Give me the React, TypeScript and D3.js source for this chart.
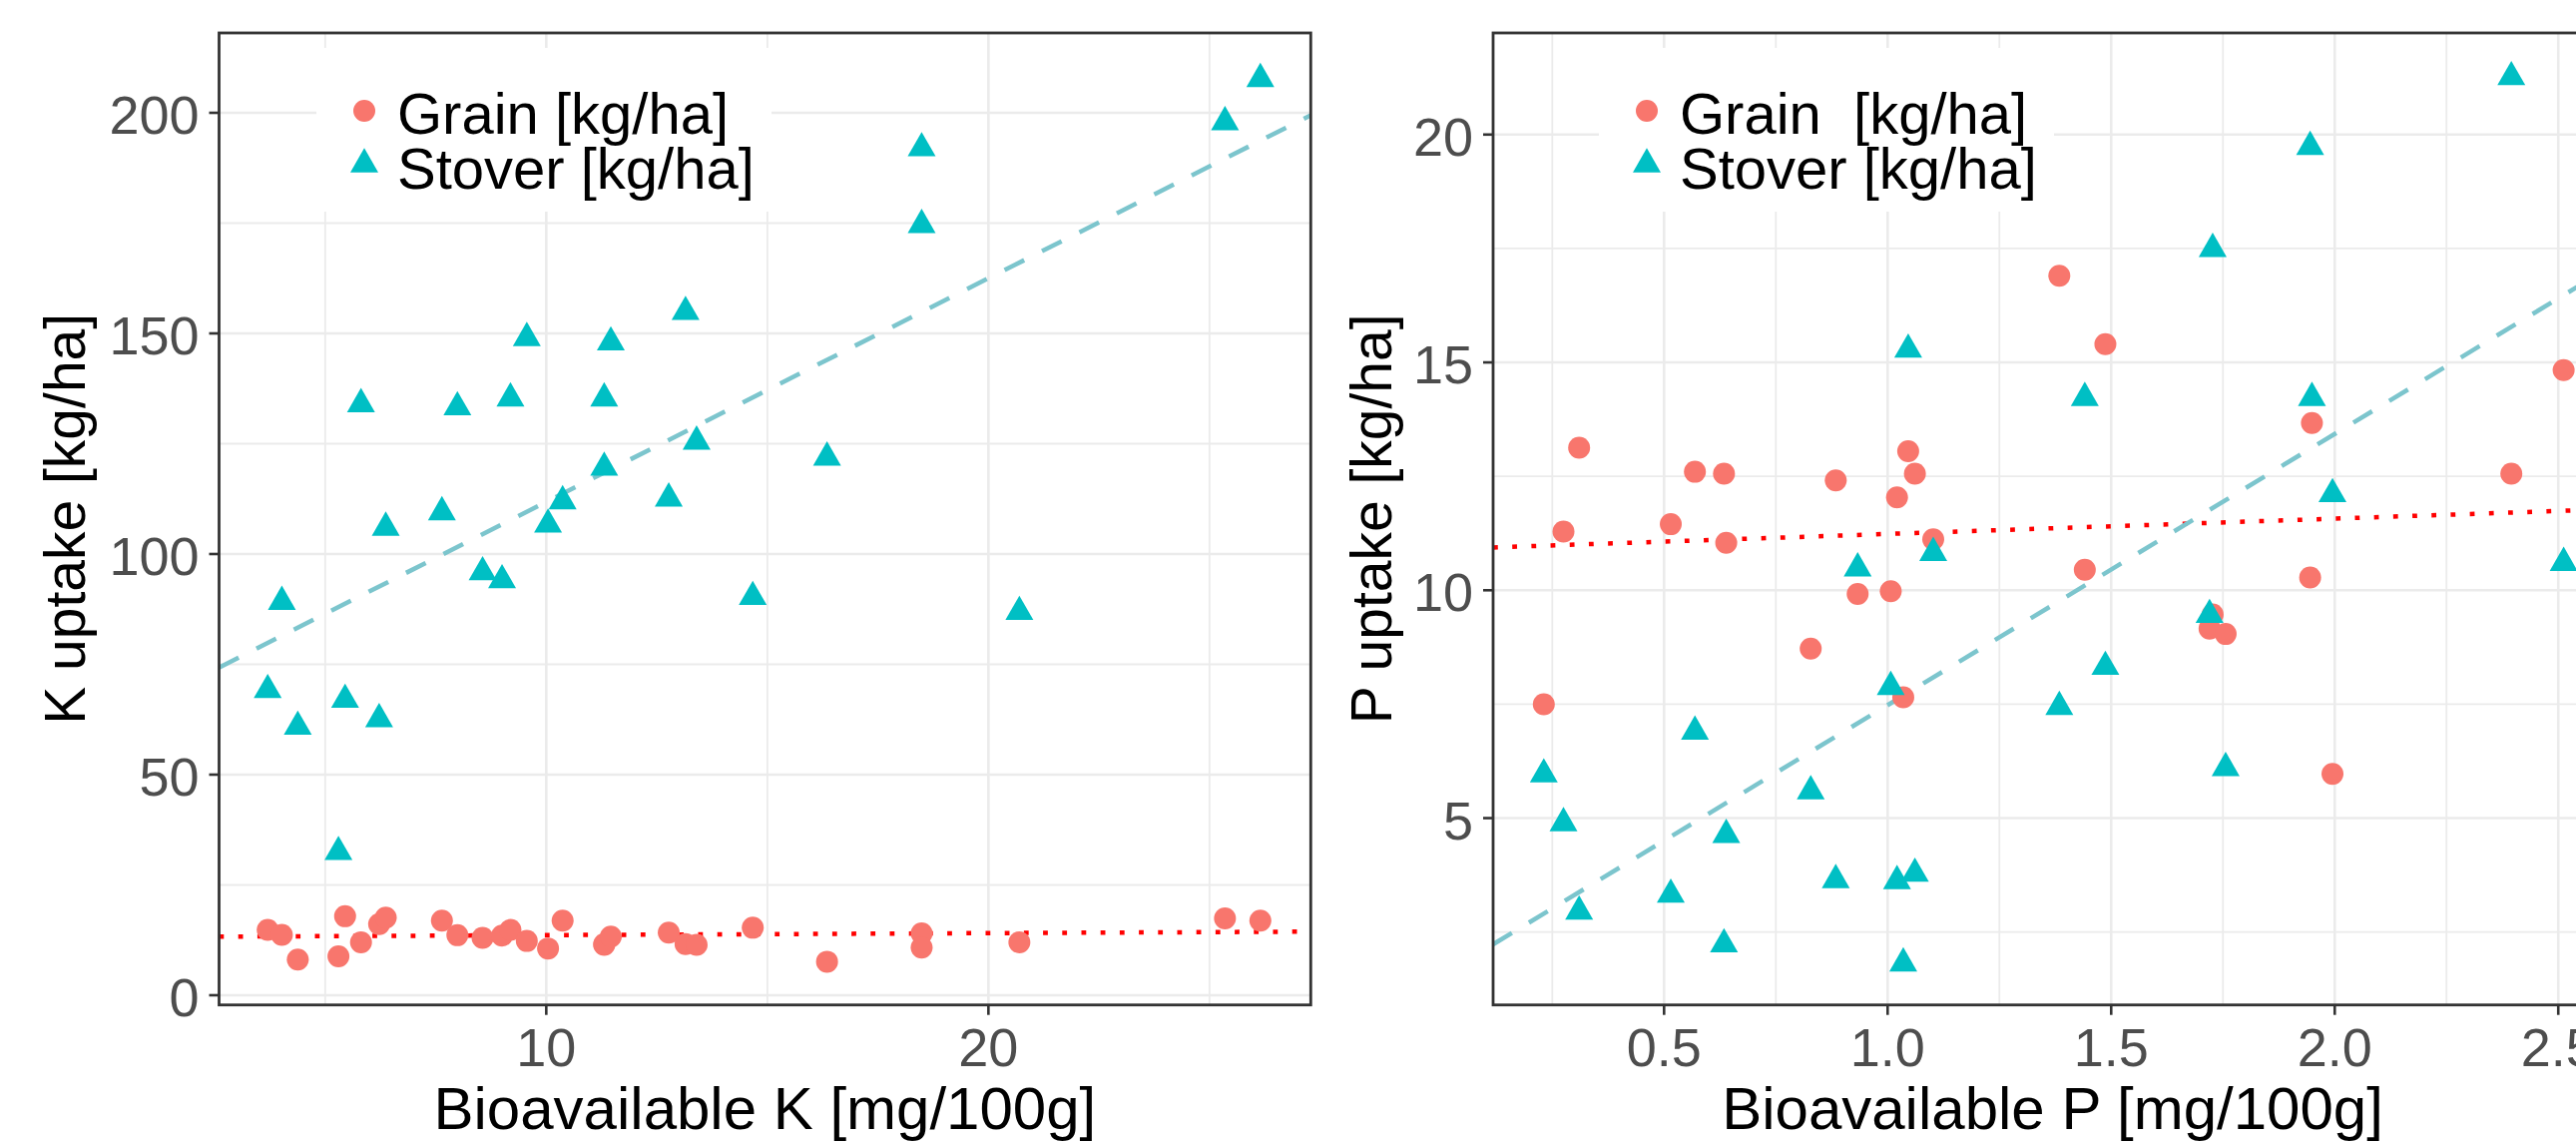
import React from "react"
import * as d3 from "d3"

const W = 2581
const H = 1145
const FONT = "'Liberation Sans', Arial, sans-serif"

// bioavailable K [mg/100g] with grain / stover K uptake [kg/ha]
const bioK = [3.7, 4.02, 4.38, 5.3, 5.45, 5.81, 6.22, 6.37, 7.64, 7.99, 8.56, 9.0, 9.19, 9.56, 10.04, 10.37, 11.31, 11.31, 11.46, 12.77, 13.15, 13.4, 14.67, 16.35, 18.49, 18.49, 20.7, 25.35, 26.15]
const grainK = [14.8, 13.7, 8.1, 8.8, 17.9, 12.0, 16.1, 17.6, 16.9, 13.6, 13.0, 13.5, 14.8, 12.3, 10.6, 16.9, 11.4, 11.6, 13.3, 14.2, 11.6, 11.4, 15.3, 7.6, 14.0, 10.8, 12.0, 17.4, 16.9]
const stoverK = [70.1, 90.1, 61.8, 33.4, 67.9, 134.9, 63.5, 106.9, 110.4, 134.2, 96.8, 95.0, 136.2, 149.9, 107.6, 112.9, 136.2, 120.5, 148.9, 113.5, 155.8, 126.4, 91.2, 122.8, 192.9, 175.5, 87.8, 198.8, 208.6]

// bioavailable P [mg/100g] with grain / stover P uptake [kg/ha]
const bioP = [0.231, 0.275, 0.31, 0.515, 0.569, 0.634, 0.639, 0.828, 0.884, 0.933, 1.007, 1.021, 1.035, 1.046, 1.061, 1.102, 1.384, 1.441, 1.487, 1.72, 1.727, 1.756, 1.945, 1.949, 1.995, 2.395, 2.512]
const grainP = [7.5, 11.29, 13.13, 11.45, 12.6, 12.56, 11.04, 8.72, 12.41, 9.92, 9.98, 12.04, 7.65, 13.05, 12.56, 11.12, 16.9, 10.45, 15.4, 9.16, 9.47, 9.04, 10.28, 13.67, 5.97, 12.56, 14.83]
const stoverP = [6.05, 4.98, 3.04, 3.41, 6.99, 2.32, 4.72, 5.68, 3.73, 10.57, 7.97, 3.71, 1.9, 15.37, 3.87, 10.91, 7.53, 14.31, 8.41, 9.55, 17.58, 6.19, 19.82, 14.31, 12.2, 21.35, 10.69]

// fitted lines: [intercept, slope]
const grainFitK = [13.16, 0.0458]
const stoverFitK = [61.1, 5.07]
const grainFitP = [10.9, 0.336]
const stoverFitP = [1.53, 5.95]

// axes
const kXTicks = [10, 20]
const kXMinor = [5, 15, 25]
const kYTicks = [0, 50, 100, 150, 200]
const kYMinor = [25, 75, 125, 175]
const pXTicks = [0.5, 1.0, 1.5, 2.0, 2.5]
const pXMinor = [0.25, 0.75, 1.25, 1.75, 2.25]
const pYTicks = [5, 10, 15, 20]
const pYMinor = [2.5, 7.5, 12.5, 17.5]

const grainCol = "#F8766D"
const stoverCol = "#00BFC4"

function tri(cx, cy) {
  const hw = 14, hh = 12.2
  return `M${cx},${cy - hh}L${cx + hw},${cy + hh}L${cx - hw},${cy + hh}Z`
}

function Panel({ id, box, xDom, yDom, xTicks, xMinor, yTicks, yMinor, fmt, xs, grain, stover, grainFit, stoverFit, xTitle, yTitle, yTitleX, legendX, grainLabel }) {
  const x = d3.scaleLinear().domain(xDom).range([box.x0, box.x1])
  const y = d3.scaleLinear().domain(yDom).range([box.y1, box.y0])
  const fitLine = (f) => {
    const [a, b] = xDom
    return d3.line()([[x(a), y(f[0] + f[1] * a)], [x(b), y(f[0] + f[1] * b)]])
  }
  const grid = "#EBEBEB"
  return (
    <g>
      <defs>
        <clipPath id={id}>
          <rect x={box.x0} y={box.y0} width={box.x1 - box.x0} height={box.y1 - box.y0} />
        </clipPath>
      </defs>
      <g clipPath={`url(#${id})`}>
        {xMinor.map(v => <line key={"xm" + v} x1={x(v)} x2={x(v)} y1={box.y0} y2={box.y1} stroke={grid} strokeWidth={1.8} />)}
        {yMinor.map(v => <line key={"ym" + v} y1={y(v)} y2={y(v)} x1={box.x0} x2={box.x1} stroke={grid} strokeWidth={1.8} />)}
        {xTicks.map(v => <line key={"xg" + v} x1={x(v)} x2={x(v)} y1={box.y0} y2={box.y1} stroke={grid} strokeWidth={2.6} />)}
        {yTicks.map(v => <line key={"yg" + v} y1={y(v)} y2={y(v)} x1={box.x0} x2={box.x1} stroke={grid} strokeWidth={2.6} />)}
        <path d={fitLine(grainFit)} stroke="#FF0000" strokeWidth={4.5} strokeDasharray="4.8 14.4" fill="none" />
        <path d={fitLine(stoverFit)} stroke="#7CC5CD" strokeWidth={4.5} strokeDasharray="22 20" fill="none" />
        {xs.map((v, i) => <circle key={"g" + i} cx={x(v)} cy={y(grain[i])} r={11} fill={grainCol} />)}
        {xs.map((v, i) => <path key={"s" + i} d={tri(x(v), y(stover[i]))} fill={stoverCol} />)}
        <rect x={legendX - 48} y={48} width={456} height={164} fill="#fff" />
        <circle cx={legendX} cy={111} r={11} fill={grainCol} />
        <path d={tri(legendX, 160.5)} fill={stoverCol} />
        <text x={legendX + 33} y={134} fontSize={58} fontFamily={FONT} fill="#000" style={{ whiteSpace: "pre" }}>{grainLabel}</text>
        <text x={legendX + 33} y={189} fontSize={58} fontFamily={FONT} fill="#000">Stover [kg/ha]</text>
      </g>
      <rect x={box.x0} y={box.y0} width={box.x1 - box.x0} height={box.y1 - box.y0} fill="none" stroke="#333333" strokeWidth={2.8} />
      {xTicks.map(v => (
        <g key={"xt" + v}>
          <line x1={x(v)} x2={x(v)} y1={box.y1} y2={box.y1 + 10} stroke="#333333" strokeWidth={2.6} />
          <text x={x(v)} y={box.y1 + 61} textAnchor="middle" fontSize={54} fontFamily={FONT} fill="#4D4D4D">{fmt(v)}</text>
        </g>
      ))}
      {yTicks.map(v => (
        <g key={"yt" + v}>
          <line x1={box.x0 - 10} x2={box.x0} y1={y(v)} y2={y(v)} stroke="#333333" strokeWidth={2.6} />
          <text x={box.x0 - 20} y={y(v) + 21} textAnchor="end" fontSize={54} fontFamily={FONT} fill="#4D4D4D">{fmt(v)}</text>
        </g>
      ))}
      <text x={(box.x0 + box.x1) / 2} y={1131} textAnchor="middle" fontSize={60} fontFamily={FONT} fill="#000">{xTitle}</text>
      <text transform={`translate(${yTitleX},${(box.y0 + box.y1) / 2}) rotate(-90)`} textAnchor="middle" fontSize={57} fontFamily={FONT} fill="#000">{yTitle}</text>
    </g>
  )
}

export default function App() {
  return (
    <div style={{ position: "absolute", left: 0, top: 0, width: W, height: H, overflow: "hidden", background: "#fff" }}>
      <svg width={W} height={H} style={{ display: "block" }}>
        <rect width={W} height={H} fill="#fff" />
        <Panel
          id="clipK"
          box={{ x0: 219.5, x1: 1313.3, y0: 33, y1: 1006.7 }}
          xDom={[2.6, 27.29]}
          yDom={[-2.2, 218.1]}
          xTicks={kXTicks} xMinor={kXMinor} yTicks={kYTicks} yMinor={kYMinor}
          fmt={d3.format("d")}
          xs={bioK} grain={grainK} stover={stoverK}
          grainFit={grainFitK} stoverFit={stoverFitK}
          xTitle="Bioavailable K [mg/100g]" yTitle="K uptake [kg/ha]" yTitleX={85}
          legendX={365} grainLabel="Grain [kg/ha]"
        />
        <Panel
          id="clipP"
          box={{ x0: 1496, x1: 2617, y0: 33, y1: 1006.7 }}
          xDom={[0.1176, 2.62]}
          yDom={[0.9, 22.23]}
          xTicks={pXTicks} xMinor={pXMinor} yTicks={pYTicks} yMinor={pYMinor}
          fmt={v => (Number.isInteger(v) && v >= 5 ? d3.format("d")(v) : d3.format(".1f")(v))}
          xs={bioP} grain={grainP} stover={stoverP}
          grainFit={grainFitP} stoverFit={stoverFitP}
          xTitle="Bioavailable P [mg/100g]" yTitle="P uptake [kg/ha]" yTitleX={1394}
          legendX={1650} grainLabel="Grain  [kg/ha]"
        />
      </svg>
    </div>
  )
}
